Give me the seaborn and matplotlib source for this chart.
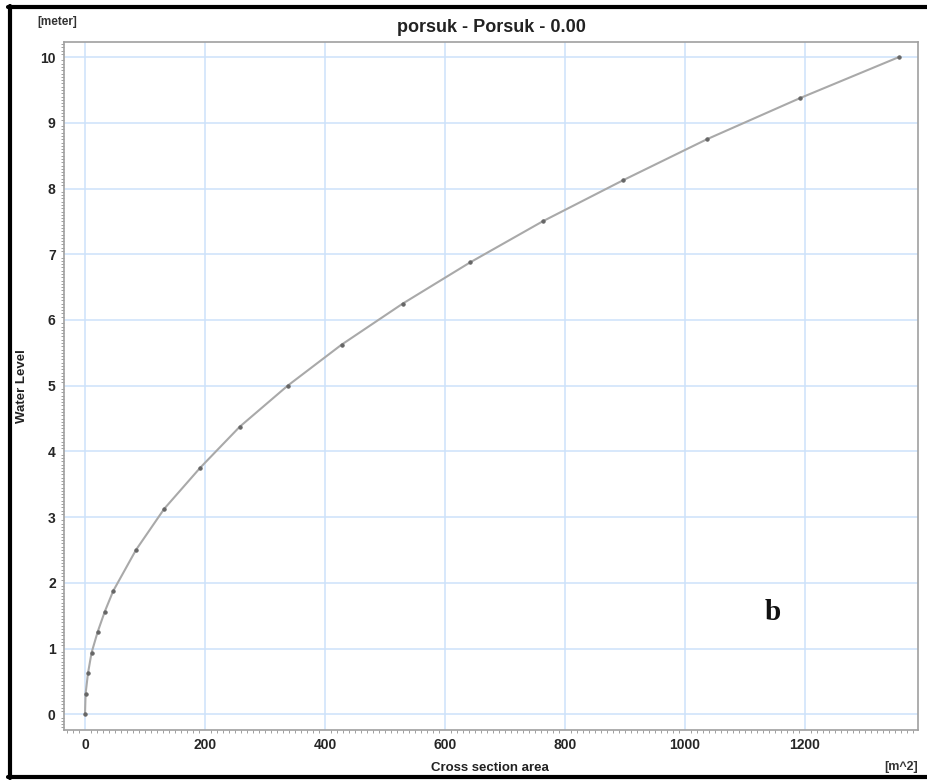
import matplotlib
matplotlib.use('Agg')
import matplotlib.pyplot as plt
import seaborn as sns
from matplotlib.lines import Line2D
from matplotlib.ticker import MultipleLocator

# cross section area [m^2] vs water level [m]
area = [0, 1, 5, 11, 21, 33, 47, 85, 132, 192, 258, 338, 428, 530,
        642, 763, 897, 1037, 1192, 1357]
level = [0, 0.3125, 0.625, 0.9375, 1.25, 1.5625, 1.875, 2.5, 3.125, 3.75,
         4.375, 5.0, 5.625, 6.25, 6.875, 7.5, 8.125, 8.75, 9.375, 10.0]

sns.set_style('white')
plt.rcParams['font.family'] = ['Liberation Sans', 'DejaVu Sans']

fig = plt.figure(figsize=(9.28, 7.8), dpi=100)
ax = fig.add_axes([64 / 928, 1 - 730 / 780, 854 / 928, 688 / 780])

sns.lineplot(x=area, y=level, ax=ax, color='#a9a9a9', linewidth=1.5,
             marker='o', markersize=2.4, markerfacecolor='#666666',
             markeredgecolor='#666666', zorder=3)

ax.set_xlim(-35, 1389)
ax.set_ylim(-0.24, 10.23)
ax.xaxis.set_major_locator(MultipleLocator(200))
ax.yaxis.set_major_locator(MultipleLocator(1))
ax.xaxis.set_minor_locator(MultipleLocator(10))
ax.yaxis.set_minor_locator(MultipleLocator(0.05))
ax.grid(True, which='major', color='#cde2fa', linewidth=1.1)
ax.set_axisbelow(True)

for s in ax.spines.values():
    s.set_color('#a0a0a0')
    s.set_linewidth(1.2)
ax.tick_params(which='major', length=3, color='#909090', direction='out',
               labelsize=10, pad=3)
ax.tick_params(which='minor', length=2, color='#909090', direction='out',
               bottom=True, left=True)
for lab in ax.get_xticklabels() + ax.get_yticklabels():
    lab.set_fontweight('bold')

ax.set_xlabel('')
ax.set_ylabel('')
fig.text(491 / 928, 1 - 28 / 780, 'porsuk - Porsuk - 0.00', ha='center',
         va='center', fontsize=13, fontweight='bold', color='#222222')
fig.text(57 / 928, 1 - 22 / 780, '[meter]', ha='center', va='center',
         fontsize=8.5, fontweight='bold', color='#333333')
fig.text(22 / 928, 1 - 386 / 780, 'Water Level', ha='center', va='center',
         rotation=90, fontsize=9.5, fontweight='bold', color='#222222')
fig.text(490 / 928, 1 - 768 / 780, 'Cross section area', ha='center',
         va='center', fontsize=9.5, fontweight='bold', color='#222222')
fig.text(901 / 928, 1 - 767 / 780, '[m^2]', ha='center', va='center',
         fontsize=9, fontweight='bold', color='#333333')
fig.text(773 / 928, 1 - 613 / 780, 'b', ha='center', va='center',
         fontsize=21, fontweight='bold', family=['Liberation Serif'],
         color='#111111')

# black frame on left, top and bottom
for xs, ys in [([10, 10], [6, 778]), ([8, 930], [7, 7]), ([8, 930], [777, 777])]:
    fig.add_artist(Line2D([x / 928 for x in xs], [1 - y / 780 for y in ys],
                          transform=fig.transFigure, color='black',
                          linewidth=3))

fig.savefig('out.png', dpi=100)
